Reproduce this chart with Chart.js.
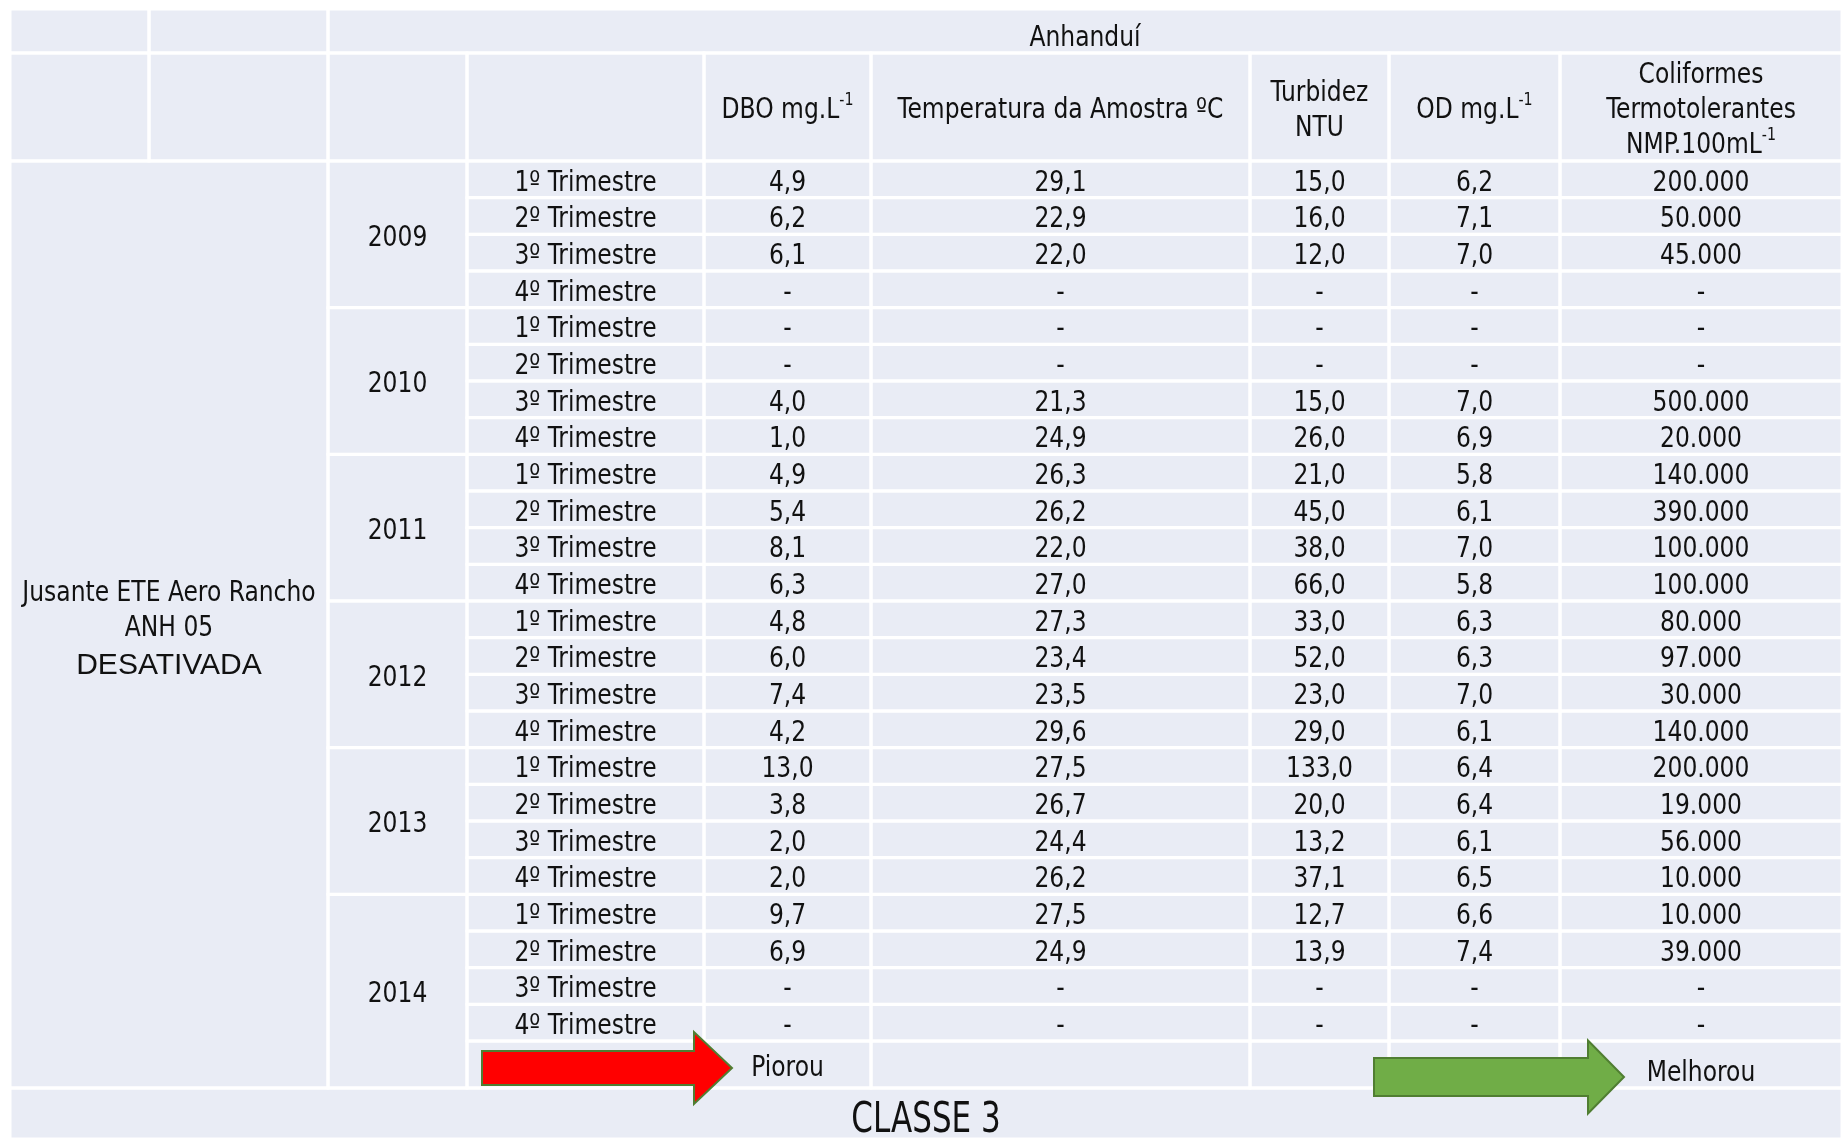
<!DOCTYPE html>
<html>
<head>
<meta charset="utf-8">
<script src="https://cdn.jsdelivr.net/npm/chart.js@4.4.1/dist/chart.umd.min.js"></script>
<style>
  html, body { margin: 0; padding: 0; background: #fff; }
  #wrap { width: 1845px; height: 1141px; }
</style>
</head>
<body>
<div id="wrap"><canvas id="chart" width="1845" height="1141"></canvas></div>
<script>
// -> Daten
const rio = "Anhanduí";
const ponto = ["Jusante ETE Aero Rancho", "ANH 05", "DESATIVADA"];
const classe = "CLASSE 3";
const anos = ["2009", "2010", "2011", "2012", "2013", "2014"];
const trimestres = ["1º Trimestre", "2º Trimestre", "3º Trimestre", "4º Trimestre"];

const dbo = [4.9, 6.2, 6.1, null, null, null, 4.0, 1.0, 4.9, 5.4, 8.1, 6.3,
             4.8, 6.0, 7.4, 4.2, 13.0, 3.8, 2.0, 2.0, 9.7, 6.9, null, null];
const temperatura = [29.1, 22.9, 22.0, null, null, null, 21.3, 24.9, 26.3, 26.2, 22.0, 27.0,
                     27.3, 23.4, 23.5, 29.6, 27.5, 26.7, 24.4, 26.2, 27.5, 24.9, null, null];
const turbidez = [15.0, 16.0, 12.0, null, null, null, 15.0, 26.0, 21.0, 45.0, 38.0, 66.0,
                  33.0, 52.0, 23.0, 29.0, 133.0, 20.0, 13.2, 37.1, 12.7, 13.9, null, null];
const od = [6.2, 7.1, 7.0, null, null, null, 7.0, 6.9, 5.8, 6.1, 7.0, 5.8,
            6.3, 6.3, 7.0, 6.1, 6.4, 6.4, 6.1, 6.5, 6.6, 7.4, null, null];
const coliformes = [200000, 50000, 45000, null, null, null, 500000, 20000, 140000, 390000, 100000, 100000,
                    80000, 97000, 30000, 140000, 200000, 19000, 56000, 10000, 10000, 39000, null, null];

// Kopfzeilen: [Zeilen, Hochzahl hinter letzter Zeile]
const kopf = [
  [["DBO mg.L"], "-1"],
  [["Temperatura da Amostra ºC"], ""],
  [["Turbidez", "NTU"], ""],
  [["OD mg.L"], "-1"],
  [["Coliformes", "Termotolerantes", "NMP.100mL"], "-1"]
];
const legendaPiorou = "Piorou";
const legendaMelhorou = "Melhorou";

// -> Layout (Einheiten der Achsen)
const colW = [139, 179, 139, 237, 167, 379, 139, 171, 282];
const rowH = [44, 108];
for (let i = 0; i < 24; i++) rowH.push(36.67);
rowH.push(47, 51);

const colEdge = [0];
colW.forEach(w => colEdge.push(colEdge[colEdge.length - 1] + w));
const rowEdge = [0];
rowH.forEach(h => rowEdge.push(rowEdge[rowEdge.length - 1] + h));

const BG = "#e9ecf5";
const TXT = "#111111";
const FONT = '"DejaVu Sans Condensed", "Liberation Sans Narrow", sans-serif';
const FS = 28;
const HS = 0.93;   // schmaler machen
const DY = 4;      // Text etwas tiefer

function fmt1(v) {
  if (v === null) return "-";
  return v.toFixed(1).replace(".", ",");
}
function fmtMil(v) {
  if (v === null) return "-";
  return String(v).replace(/\B(?=(\d{3})+(?!\d))/g, ".");
}

// -> Tabelle als Plugin zeichnen
const tabelle = {
  id: "tabelle",
  afterDraw(chart) {
    const ctx = chart.ctx;
    const sx = chart.scales.x, sy = chart.scales.y;
    const X = u => sx.getPixelForValue(u);
    const Y = u => sy.getPixelForValue(u);

    const zellen = [];
    function zelle(c0, c1, r0, r1) { zellen.push([c0, c1, r0, r1]); }

    zelle(0, 1, 0, 1); zelle(1, 2, 0, 1); zelle(2, 9, 0, 1);
    zelle(0, 1, 1, 2); zelle(1, 2, 1, 2); zelle(2, 3, 1, 2); zelle(3, 4, 1, 2);
    for (let c = 4; c < 9; c++) zelle(c, c + 1, 1, 2);
    zelle(0, 2, 2, 27);
    anos.forEach((a, i) => zelle(2, 3, 2 + i * 4, i === anos.length - 1 ? 27 : 2 + i * 4 + 4));
    for (let r = 2; r < 27; r++) {
      for (let c = 3; c < 9; c++) zelle(c, c + 1, r, r + 1);
    }
    zelle(0, 9, 27, 28);

    ctx.save();
    ctx.fillStyle = BG;
    ctx.fillRect(X(0), Y(0), X(colEdge[9]) - X(0), Y(rowEdge[28]) - Y(0));
    ctx.strokeStyle = "#ffffff";
    ctx.lineWidth = 3;
    zellen.forEach(([c0, c1, r0, r1]) => {
      ctx.strokeRect(X(colEdge[c0]), Y(rowEdge[r0]), X(colEdge[c1]) - X(colEdge[c0]), Y(rowEdge[r1]) - Y(rowEdge[r0]));
    });

    ctx.fillStyle = TXT;
    ctx.textBaseline = "middle";
    ctx.textAlign = "center";
    const cx = (c0, c1) => (X(colEdge[c0]) + X(colEdge[c1])) / 2;
    const cy = (r0, r1) => (Y(rowEdge[r0]) + Y(rowEdge[r1])) / 2 + DY;

    function text(t, x, y, size, fam, hs) {
      ctx.save();
      ctx.font = size + "px " + (fam || FONT);
      ctx.translate(x, y);
      ctx.scale(hs || HS, 1);
      ctx.fillText(t, 0, 0);
      ctx.restore();
    }
    function textSup(t, sup, x, y) {
      ctx.save();
      ctx.translate(x, y);
      ctx.scale(HS, 1);
      ctx.font = FS + "px " + FONT;
      const w1 = ctx.measureText(t).width;
      ctx.font = Math.round(FS * 0.6) + "px " + FONT;
      const w2 = sup ? ctx.measureText(sup).width : 0;
      const x0 = -(w1 + w2) / 2;
      ctx.textAlign = "left";
      ctx.font = FS + "px " + FONT;
      ctx.fillText(t, x0, 0);
      if (sup) {
        ctx.font = Math.round(FS * 0.6) + "px " + FONT;
        ctx.fillText(sup, x0 + w1, -10);
      }
      ctx.restore();
    }

    // Kopf
    text(rio, cx(2, 9), cy(0, 1) + 4, FS);
    kopf.forEach(([zeilen, sup], i) => {
      const c = 4 + i;
      const lh = 35;
      const y0 = cy(1, 2) - (zeilen.length - 1) * lh / 2;
      zeilen.forEach((z, k) => {
        if (k === zeilen.length - 1) textSup(z, sup, cx(c, c + 1), y0 + k * lh);
        else text(z, cx(c, c + 1), y0 + k * lh, FS);
      });
    });

    // Messpunkt
    const py = cy(2, 27);
    text(ponto[0], cx(0, 2), py - 35, FS);
    text(ponto[1], cx(0, 2), py, FS);
    text(ponto[2], cx(0, 2), py + 37, 30, '"Liberation Sans", Arial, sans-serif', 1);

    // Jahre
    anos.forEach((a, i) => {
      const r1 = i === anos.length - 1 ? 27 : 2 + i * 4 + 4;
      text(a, cx(2, 3), cy(2 + i * 4, r1), FS);
    });

    // Werte
    for (let i = 0; i < 24; i++) {
      const r = 2 + i;
      const y = cy(r, r + 1);
      text(trimestres[i % 4], cx(3, 4), y, FS);
      text(fmt1(dbo[i]), cx(4, 5), y, FS);
      text(fmt1(temperatura[i]), cx(5, 6), y, FS);
      text(fmt1(turbidez[i]), cx(6, 7), y, FS);
      text(fmt1(od[i]), cx(7, 8), y, FS);
      text(fmtMil(coliformes[i]), cx(8, 9), y, FS);
    }

    // Pfeile
    function pfeil(u0, u1, uy, body, head, len, fill, stroke) {
      const x0 = X(u0), x1 = X(u1), y = Y(uy);
      ctx.beginPath();
      ctx.moveTo(x0, y - body / 2);
      ctx.lineTo(x1 - len, y - body / 2);
      ctx.lineTo(x1 - len, y - head / 2);
      ctx.lineTo(x1, y);
      ctx.lineTo(x1 - len, y + head / 2);
      ctx.lineTo(x1 - len, y + body / 2);
      ctx.lineTo(x0, y + body / 2);
      ctx.closePath();
      ctx.fillStyle = fill;
      ctx.fill();
      ctx.strokeStyle = stroke;
      ctx.lineWidth = 2;
      ctx.stroke();
    }
    pfeil(colEdge[3] + 15, colEdge[4] + 28, rowEdge[26] + 27, 34, 72, 38, "#ff0000", "#507e32");
    pfeil(colEdge[6] + 124, colEdge[8] + 64, rowEdge[26] + 36, 38, 73, 36, "#70ad47", "#507e32");

    ctx.fillStyle = TXT;
    text(legendaPiorou, cx(4, 5), cy(26, 27), FS);
    text(legendaMelhorou, cx(8, 9), cy(26, 27) + 5, FS);

    // Klasse
    text(classe, cx(0, 9), cy(27, 28) + 4, 42, FONT, 0.82);
    ctx.restore();
  }
};

const canvas = document.querySelector("#chart");
const chart = new Chart(canvas, {
  type: "scatter",
  data: { datasets: [] },
  options: {
    responsive: false,
    animation: false,
    layout: { padding: { left: 10, top: 9, right: 3, bottom: 2 } },
    plugins: { legend: { display: false }, tooltip: { enabled: false } },
    scales: {
      x: { type: "linear", display: false, min: 0, max: colEdge[9] },
      y: { type: "linear", display: false, reverse: true, min: 0, max: rowEdge[28] }
    }
  },
  plugins: [tabelle]
});
</script>
</body>
</html>
